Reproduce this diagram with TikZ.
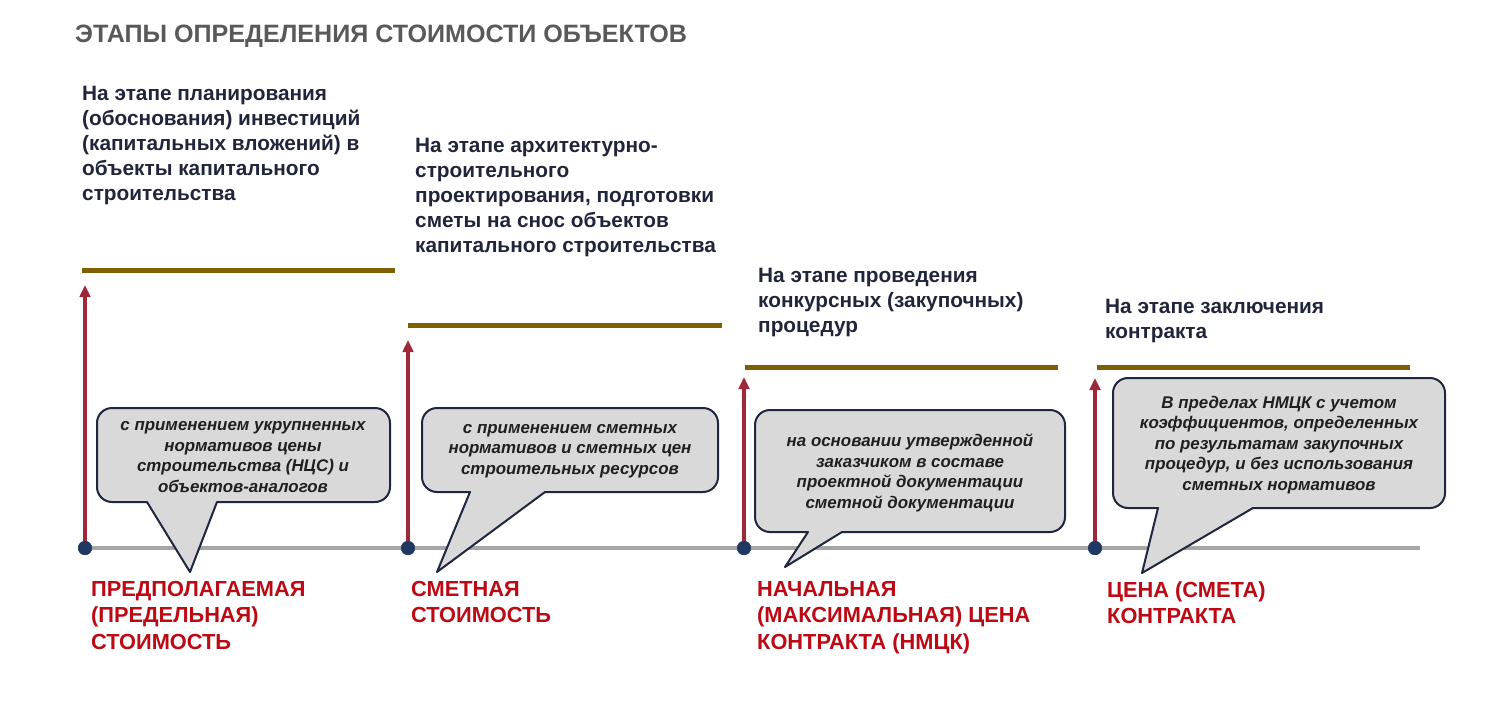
\documentclass[tikz,border=0pt]{standalone}
\usepackage{fontspec}
\setmainfont{Liberation Sans}
\usetikzlibrary{arrows.meta}
\definecolor{titlegray}{RGB}{89,89,89}
\definecolor{headnavy}{RGB}{33,37,58}
\definecolor{gold}{RGB}{127,96,0}
\definecolor{stemred}{RGB}{158,40,58}
\definecolor{dotnavy}{RGB}{31,56,100}
\definecolor{axisgray}{RGB}{166,166,166}
\definecolor{bubblegray}{RGB}{217,217,217}
\definecolor{bubbleline}{RGB}{30,38,64}
\definecolor{labelred}{RGB}{188,10,20}
\tikzset{
  title/.style={anchor=base west, inner sep=0pt, text=titlegray, font=\bfseries\fontsize{25.1}{29}\selectfont},
  heading/.style={anchor=north west, align=left, inner sep=0pt, text=headnavy, font=\bfseries\fontsize{20.8}{25}\selectfont},
  costlabel/.style={anchor=north west, align=left, inner sep=0pt, text=labelred, font=\bfseries\fontsize{21.8}{26.5}\selectfont},
  bubbletext/.style={align=center, inner sep=0pt, text=black!88, font=\bfseries\itshape\fontsize{16.9}{20.5}\selectfont},
  bubble/.style={draw=bubbleline, line width=2pt, fill=bubblegray, line join=round},
  goldline/.style={draw=gold, line width=5pt},
  stemarrow/.style={draw=stemred, line width=3.5pt, -{Triangle[width=10.5pt,length=12pt]}},
  dot/.style={circle, fill=dotnavy, inner sep=0pt, minimum size=14pt},
  axis/.style={draw=axisgray, line width=4pt}
}
% callout: (left:top:right:bottom)(tail left:tail right:tip x:tip y)
\def\bubble(#1:#2:#3:#4)(#5:#6:#7:#8){\draw[bubble] (#5,#4) [rounded corners=15pt] -- (#1,#4) -- (#1,#2) -- (#3,#2) -- (#3,#4) [sharp corners] -- (#6,#4) -- (#7,#8) -- cycle;}

\begin{document}
\begin{tikzpicture}[x=1pt,y=-1pt]
		%%%%% START %%%%%
		\useasboundingbox (0,0) rectangle (1500,707);
		
		\node[title] (title) at (75,42) {ЭТАПЫ ОПРЕДЕЛЕНИЯ СТОИМОСТИ ОБЪЕКТОВ};
		
		% stages
		\node[heading] (stage1) at (82,86) {На этапе планирования\\(обоснования) инвестиций\\(капитальных вложений) в\\объекты капитального\\строительства};
		\node[heading] (stage2) at (415,138) {На этапе архитектурно-\\строительного\\проектирования, подготовки\\сметы на снос объектов\\капитального строительства};
		\node[heading] (stage3) at (758,268) {На этапе проведения\\конкурсных (закупочных)\\процедур};
		\node[heading] (stage4) at (1105,299) {На этапе заключения\\контракта};
		
		\draw[goldline] (82,270) -- (395,270);
		\draw[goldline] (408,325) -- (722,325);
		\draw[goldline] (745,367) -- (1058,367);
		\draw[goldline] (1097,367) -- (1410,367);
		
		% time axis
		\coordinate (axisend) at (1420,548);
		\node[dot] (d1) at (85,548) {};
		\node[dot] (d2) at (408,548) {};
		\node[dot] (d3) at (744,548) {};
		\node[dot] (d4) at (1095,548) {};
		\draw[axis] (d1.center) -- (axisend);
		\foreach \i in {1,...,4} {\node[dot] at (d\i) {};}
		
		\coordinate (a1) at (85,285);
		\coordinate (a2) at (408,340);
		\coordinate (a3) at (744,377);
		\coordinate (a4) at (1095,378);
		\foreach \i in {1,...,4} {\draw[stemarrow] (d\i) -- (a\i);}
		
		% callouts
		\bubble(97:408:390:502)(147:217:190:572)
		\bubble(422:408:718:492)(470:545:437:572)
		\bubble(755:410:1065:532)(808:842:785:567)
		\bubble(1113:378:1445:508)(1158:1253:1142:573)
		
		\node[bubbletext] (cost1) at (243,457) {с применением укрупненных\\нормативов цены\\строительства (НЦС) и\\объектов-аналогов};
		\node[bubbletext] (cost2) at (570,451) {с применением сметных\\нормативов и сметных цен\\строительных ресурсов};
		\node[bubbletext] (cost3) at (910,473) {на основании утвержденной\\заказчиком в составе\\проектной документации\\сметной документации};
		\node[bubbletext] (cost4) at (1279,445) {В пределах НМЦК с учетом\\коэффициентов, определенных\\по результатам закупочных\\процедур, и без использования\\сметных нормативов};
		
		% prices
		\node[costlabel] (price1) at (91,581) {ПРЕДПОЛАГАЕМАЯ\\(ПРЕДЕЛЬНАЯ)\\СТОИМОСТЬ};
		\node[costlabel] (price2) at (411,581) {СМЕТНАЯ\\СТОИМОСТЬ};
		\node[costlabel] (price3) at (757,581) {НАЧАЛЬНАЯ\\(МАКСИМАЛЬНАЯ) ЦЕНА\\КОНТРАКТА (НМЦК)};
		\node[costlabel] (price4) at (1107,581) {ЦЕНА (СМЕТА)\\КОНТРАКТА};
		
		%%%%% END %%%%%
\end{tikzpicture}
\end{document}
